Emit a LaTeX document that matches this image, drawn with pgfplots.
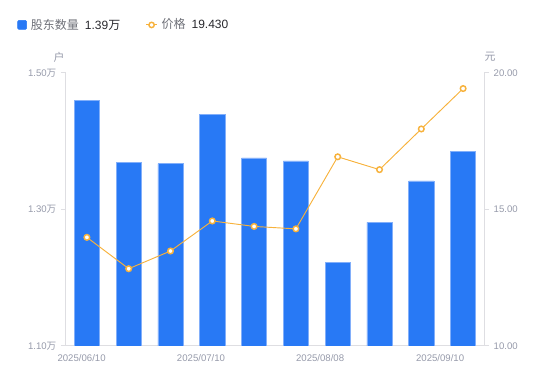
\documentclass[border=0pt]{standalone}
\usepackage{pgfplots}
\pgfplotsset{compat=1.18}
\usepackage{fontspec}
\setmainfont{Liberation Sans}
\newfontfamily\cjk{Noto Sans CJK SC}
\definecolor{barblue}{RGB}{40,121,245}
\definecolor{baredge}{RGB}{130,175,250}
\definecolor{lineorange}{RGB}{247,178,60}
\definecolor{ticklab}{RGB}{150,154,170}
\definecolor{axgray}{RGB}{222,222,226}
\definecolor{legname}{RGB}{110,112,120}
\definecolor{legval}{RGB}{40,40,45}
\begin{document}
\begin{tikzpicture}[x=0.75pt,y=0.75pt]
\useasboundingbox (0,0) rectangle (550,381);
\begin{axis}[
  at={(49.5pt,26.25pt)}, anchor=south west,
  scale only axis, width=313.5pt, height=204.75pt,
  xmin=-0.5, xmax=9.5, ymin=1.10, ymax=1.50,
  axis x line=bottom, axis y line=left,
  axis line style={draw=axgray, -, line width=0.75pt},
  ytick={1.10,1.30,1.50},
  yticklabels={1.10{\cjk 万},1.30{\cjk 万},1.50{\cjk 万}},
  xtick={-0.127,2.73,5.58,8.45},
  xticklabels={2025/06/10,2025/07/10,2025/08/08,2025/09/10},
  x tick style={draw=none},
  y tick style={draw=axgray, line width=0.75pt},
  tick align=outside, major tick length=3.75pt,
  ticklabel style={font=\fontsize{7.2}{8}\selectfont, text=ticklab},
  xticklabel style={yshift=1pt},
  clip=true,
]
\addplot[ybar, bar width=0.6, fill=barblue, draw=baredge, line width=0.5pt] coordinates {
 (0,1.4604) (1,1.3686) (2,1.3671) (3,1.4395) (4,1.3755)
 (5,1.3711) (6,1.2226) (7,1.2813) (8,1.3418) (9,1.3857)};
\end{axis}
\begin{axis}[
  at={(49.5pt,26.25pt)}, anchor=south west,
  scale only axis, width=313.5pt, height=204.75pt,
  xmin=-0.5, xmax=9.5, ymin=10, ymax=20,
  axis x line=none, axis y line=right,
  axis line style={draw=axgray, -, line width=0.75pt},
  ytick={10,15,20},
  yticklabels={10.00,15.00,20.00},
  y tick style={draw=axgray, line width=0.75pt},
  tick align=outside, major tick length=3.75pt,
  ticklabel style={font=\fontsize{7.2}{8}\selectfont, text=ticklab},
  legend columns=2,
  legend style={at={(axis description cs:-0.117,1.176)}, anchor=west,
    draw=none, fill=none, inner sep=0pt, font=\fontsize{9}{10}\selectfont,
    /tikz/every even column/.append style={column sep=16pt},
    nodes={inner sep=3pt}},
  legend cell align=left,
]
\addlegendimage{legend image code/.code={\fill[barblue, rounded corners=1pt] (0pt,-3.4pt) rectangle (6.8pt,3.4pt);}}
\addlegendentry{{\cjk\color{legname}股东数量}\hspace{4.5pt}{\color{legval}1.39{\cjk 万}}}
\addplot[lineorange, line width=0.7pt, mark=*, mark size=2.1pt,
  mark options={fill=white, draw=lineorange, line width=1.1pt},
  legend image code/.code={\draw[lineorange,line width=0.75pt] (0pt,0pt) -- (8.25pt,0pt);
     \draw[lineorange, fill=white, line width=1.1pt] (4.1pt,0pt) circle (2pt);}]
 coordinates {
 (0,13.98) (1,12.83) (2,13.48) (3,14.58) (4,14.38)
 (5,14.29) (6,16.93) (7,16.46) (8,17.95) (9,19.43)};
\addlegendentry{{\cjk\color{legname}价格}\hspace{4.5pt}{\color{legval}19.430}}
\end{axis}
\node[font=\cjk\fontsize{8.2}{9}\selectfont, text=ticklab] at (59,324) {户};
\node[font=\cjk\fontsize{8.2}{9}\selectfont, text=ticklab] at (490,324) {元};
\end{tikzpicture}
\end{document}
